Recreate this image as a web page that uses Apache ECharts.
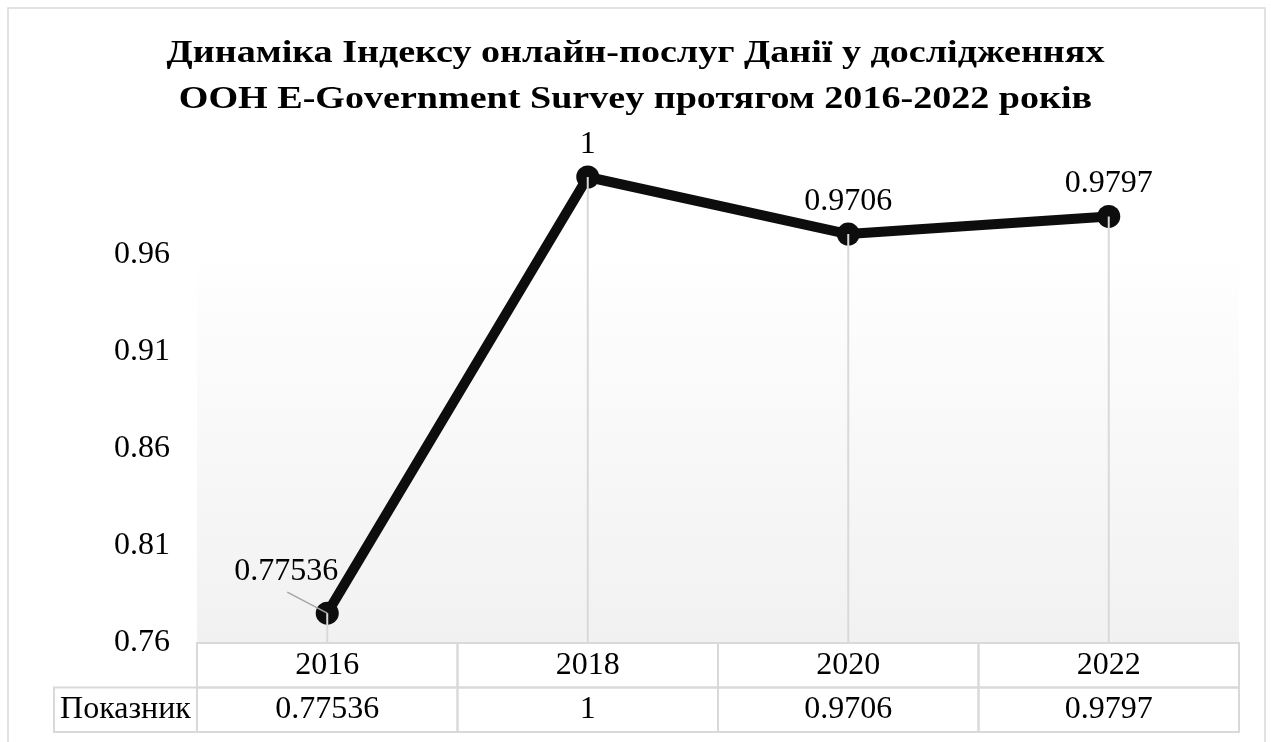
<!DOCTYPE html>
<html>
<head>
<meta charset="utf-8">
<style>
html,body{margin:0;padding:0;background:#fff;}
#chart{width:1271px;height:742px;}
</style>
<script src="https://cdn.jsdelivr.net/npm/echarts@6/dist/echarts.min.js"></script>
</head>
<body>
<div id="chart"></div>
<script>
const titleText = 'Динаміка Індексу онлайн-послуг Данії у дослідженнях\nООН E-Government Survey протягом 2016-2022 років';
const years = ['2016', '2018', '2020', '2022'];
const values = [0.77536, 1, 0.9706, 0.9797];
const seriesName = 'Показник';
const yMin = 0.76, yMax = 1.0, yStep = 0.05;

const FONT = "'Liberation Serif', 'Times New Roman', serif";
const GRID_LEFT = 197, GRID_RIGHT = 32;

// table cells: row 0 = categories, row 1 = values
const cellData = [];
const cellTexts = [];
years.forEach((y, i) => { cellData.push([i, 0]); cellTexts.push(y); });
values.forEach((v, i) => { cellData.push([i, 1]); cellTexts.push(String(v)); });

const chart = echarts.init(document.getElementById('chart'), null, {renderer: 'canvas'});

chart.setOption({
  backgroundColor: '#ffffff',
  animation: false,
  graphic: [{
    type: 'rect', silent: true, z: -10,
    shape: {x: 8, y: 8, width: 1257, height: 780},
    style: {fill: null, stroke: '#d9d9d9', lineWidth: 1.5}
  }, {
    type: 'text', silent: true, z: 100,
    x: 635.5, y: 30, scaleX: 1.19, scaleY: 1,
    style: {
      text: titleText, align: 'center', verticalAlign: 'top',
      font: 'bold 32px ' + FONT, lineHeight: 46.5, fill: '#000'
    }
  }],
  grid: [
    {
      left: GRID_LEFT, right: GRID_RIGHT, top: 177, bottom: 99,
      show: true, borderWidth: 0,
      backgroundColor: new echarts.graphic.LinearGradient(0, 0, 0, 1, [
        {offset: 0, color: '#ffffff'},
        {offset: 0.15, color: '#ffffff'},
        {offset: 1, color: '#f1f1f1'}
      ])
    },
    {left: GRID_LEFT, right: GRID_RIGHT, top: 643, bottom: 10}
  ],
  xAxis: [
    {
      type: 'category', data: years, gridIndex: 0, boundaryGap: true,
      axisLine: {show: false}, axisTick: {show: false}, axisLabel: {show: false}, splitLine: {show: false}
    },
    {
      type: 'category', data: years, gridIndex: 1, boundaryGap: true, show: false
    }
  ],
  yAxis: [
    {
      type: 'value', gridIndex: 0, min: yMin, max: yMax, interval: yStep,
      axisLine: {show: false}, axisTick: {show: false}, splitLine: {show: false},
      axisLabel: {
        showMaxLabel: false, margin: 27,
        fontFamily: FONT, fontSize: 32, color: '#000',
        formatter: v => (Math.round(v * 100) / 100).toString()
      }
    },
    {
      type: 'category', data: ['cat', 'val'], gridIndex: 1, inverse: true, show: false
    }
  ],
  series: [
    {
      type: 'line', name: seriesName, xAxisIndex: 0, yAxisIndex: 0,
      data: values, z: 5,
      symbol: 'circle', symbolSize: 23,
      lineStyle: {color: '#0d0d0d', width: 10},
      itemStyle: {color: '#0d0d0d'},
      label: {
        show: true, position: 'top', distance: 5,
        fontFamily: FONT, fontSize: 32, color: '#000',
        formatter: p => String(p.value)
      },
      labelLayout: function (params) {
        if (params.dataIndex === 0) return {dx: -41, dy: -9};
        return {};
      }
    },
    {
      // drop lines from each point to the category axis (drawn over markers)
      type: 'bar', name: 'drop', xAxisIndex: 0, yAxisIndex: 0,
      data: values, barWidth: 2, silent: true, z: 10,
      itemStyle: {color: '#d9d9d9'}
    },
    {
      // leader line of the moved first data label
      type: 'custom', name: 'leader', xAxisIndex: 0, yAxisIndex: 0,
      data: [[0, values[0]]], silent: true, z: 10,
      renderItem: function (params, api) {
        const p = api.coord([api.value(0), api.value(1)]);
        return {
          type: 'line',
          shape: {x1: p[0] - 40, y1: p[1] - 21, x2: p[0], y2: p[1]},
          style: {stroke: '#a6a6a6', lineWidth: 1.5}
        };
      }
    },
    {
      type: 'custom', name: 'table', xAxisIndex: 1, yAxisIndex: 1,
      data: cellData, silent: true, clip: false,
      renderItem: function (params, api) {
        const i = api.value(0), r = api.value(1);
        const c = api.coord([i, r]);
        const s = api.size([1, 1]);
        const x0 = c[0] - s[0] / 2, y0 = c[1] - s[1] / 2;
        const children = [{
          type: 'rect',
          shape: {x: x0, y: y0, width: s[0], height: s[1]},
          style: {fill: null, stroke: '#d9d9d9', lineWidth: 2}
        }, {
          type: 'text',
          style: {
            x: c[0], y: c[1], text: cellTexts[params.dataIndex],
            align: 'center', verticalAlign: 'middle',
            font: '32px ' + FONT, fill: '#000'
          }
        }];
        if (i === 0 && r === 1) {
          const hw = 143;
          children.push({
            type: 'rect',
            shape: {x: x0 - hw, y: y0, width: hw, height: s[1]},
            style: {fill: null, stroke: '#d9d9d9', lineWidth: 2}
          }, {
            type: 'text',
            style: {
              x: x0 - hw / 2, y: c[1], text: seriesName,
              align: 'center', verticalAlign: 'middle',
              font: '32px ' + FONT, fill: '#000'
            }
          });
        }
        return {type: 'group', children: children};
      }
    }
  ]
});
</script>
</body>
</html>
